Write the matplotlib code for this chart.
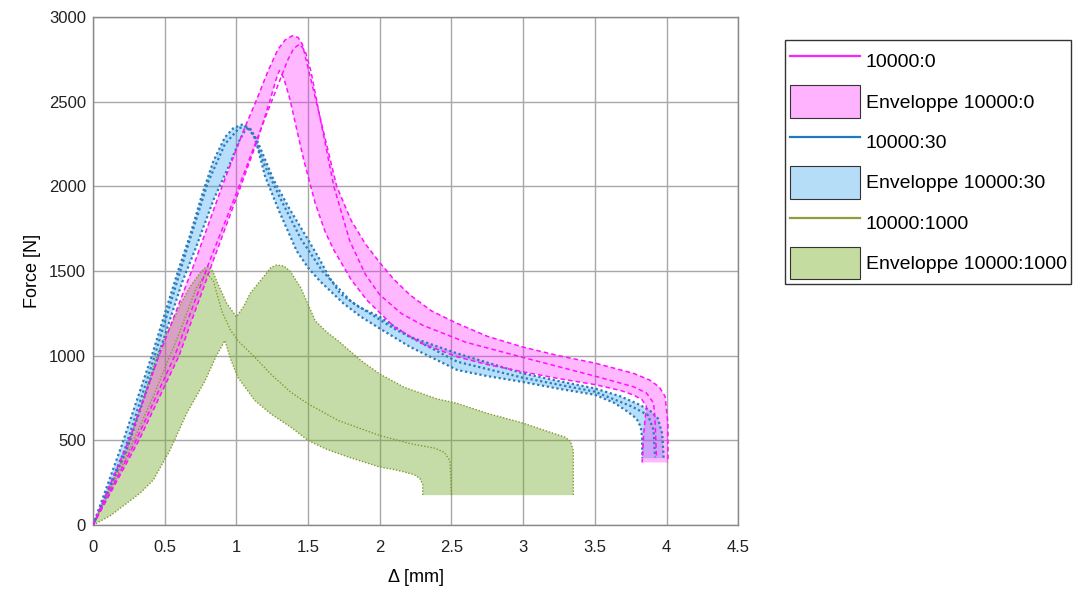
import numpy as np
import matplotlib
matplotlib.use("Agg")
import matplotlib.pyplot as plt
from matplotlib.lines import Line2D
from matplotlib.patches import Patch

plt.rcParams['font.family'] = ['Liberation Sans', 'DejaVu Sans']

# 10000:0 (pink) - envelope upper / lower edges and a third curve
pink_up_x = [0, 0.25, 0.46, 0.69, 0.90, 1.05, 1.14, 1.22, 1.29, 1.34, 1.39, 1.43, 1.46, 1.50, 1.56, 1.62, 1.70, 1.80, 1.90, 2.0, 2.10, 2.21, 2.36, 2.54, 2.75, 3.0, 3.25, 3.5, 3.77, 3.88, 3.95, 3.99, 4.01, 4.01]
pink_up_y = [0, 500, 1000, 1506, 2000, 2330, 2510, 2680, 2810, 2865, 2890, 2880, 2840, 2700, 2491, 2280, 2000, 1800, 1660, 1550, 1450, 1360, 1265, 1191, 1115, 1051, 1000, 957, 896, 858, 815, 760, 600, 370]
pink_lo_x = [0, 0.32, 0.60, 0.84, 1.03, 1.15, 1.235, 1.28, 1.30, 1.33, 1.375, 1.42, 1.47, 1.55, 1.62, 1.68, 1.80, 1.91, 2.1, 2.3, 2.54, 2.75, 3.0, 3.25, 3.5, 3.68, 3.77, 3.83, 3.86, 3.85, 3.84, 3.83]
pink_lo_y = [0, 500, 1000, 1565, 2000, 2280, 2510, 2640, 2685, 2640, 2510, 2340, 2156, 1900, 1730, 1624, 1450, 1329, 1171, 1070, 994, 948, 905, 865, 830, 795, 768, 740, 700, 620, 530, 370]
pink_md_x = [0, 0.30, 0.57, 0.80, 1.0, 1.18, 1.30, 1.36, 1.40, 1.44, 1.48, 1.52, 1.58, 1.68, 1.79, 1.90, 2.0, 2.15, 2.3, 2.6, 3.0, 3.5, 3.77, 3.86, 3.91, 3.92, 3.93]
pink_md_y = [0, 500, 1000, 1530, 1960, 2360, 2620, 2750, 2815, 2840, 2800, 2680, 2420, 2000, 1680, 1480, 1360, 1250, 1180, 1080, 990, 880, 817, 780, 720, 620, 400]

# 10000:30 (blue)
blue_up_x = [0, 0.20, 0.41, 0.595, 0.68, 0.76, 0.84, 0.92, 0.98, 1.04, 1.09, 1.14, 1.19, 1.26, 1.375, 1.49, 1.58, 1.65, 1.724, 1.85, 2.0, 2.21, 2.54, 2.75, 3.0, 3.25, 3.5, 3.68, 3.80, 3.88, 3.94, 3.97, 3.98]
blue_up_y = [0, 470, 1000, 1506, 1720, 1950, 2150, 2290, 2345, 2365, 2345, 2280, 2180, 2038, 1861, 1700, 1570, 1460, 1368, 1290, 1230, 1112, 1014, 960, 896, 850, 807, 760, 715, 680, 630, 540, 395]
blue_lo_x = [0, 0.235, 0.455, 0.62, 0.72, 0.84, 0.956, 1.02, 1.06, 1.09, 1.13, 1.20, 1.30, 1.42, 1.50, 1.584, 1.747, 1.87, 2.0, 2.21, 2.54, 2.75, 3.0, 3.25, 3.5, 3.64, 3.72, 3.79, 3.82, 3.83, 3.83]
blue_lo_y = [0, 443, 1000, 1430, 1644, 1920, 2136, 2270, 2330, 2350, 2290, 2060, 1850, 1620, 1520, 1440, 1309, 1230, 1161, 1053, 916, 880, 845, 805, 770, 720, 675, 630, 580, 520, 395]
blue_md_x = [0, 0.22, 0.43, 0.66, 0.80, 0.92, 1.02, 1.07, 1.12, 1.20, 1.30, 1.45, 1.60, 1.80, 2.1, 2.54, 3.0, 3.5, 3.76, 3.87, 3.91, 3.92]
blue_md_y = [0, 443, 1000, 1644, 2020, 2250, 2345, 2355, 2300, 2120, 1940, 1690, 1500, 1320, 1160, 965, 870, 788, 700, 650, 560, 400]

# 10000:1000 (green)
green_up_x = [0, 0.235, 0.444, 0.537, 0.62, 0.677, 0.747, 0.78, 0.805, 0.835, 0.863, 0.933, 1.0, 1.05, 1.096, 1.19, 1.24, 1.28, 1.33, 1.375, 1.45, 1.55, 1.63, 1.71, 1.87, 2.0, 2.17, 2.40, 2.54, 2.75, 3.0, 3.20, 3.29, 3.33, 3.35, 3.35]
green_up_y = [0, 443, 1000, 1171, 1320, 1408, 1490, 1518, 1526, 1500, 1440, 1309, 1230, 1290, 1368, 1467, 1520, 1536, 1530, 1500, 1400, 1206, 1140, 1088, 971, 892, 814, 745, 719, 660, 602, 545, 520, 495, 440, 177]
green_lo_x = [0, 0.12, 0.233, 0.33, 0.42, 0.537, 0.653, 0.78, 0.86, 0.92, 0.96, 1.01, 1.13, 1.24, 1.38, 1.5, 1.62, 1.78, 2.0, 2.10, 2.17, 2.24, 2.28, 2.30, 2.30]
green_lo_y = [0, 55, 128, 190, 266, 443, 660, 850, 1000, 1090, 980, 873, 735, 657, 578, 500, 451, 402, 343, 328, 314, 298, 275, 240, 177]
green_md_x = [0, 0.22, 0.42, 0.60, 0.72, 0.79, 0.84, 0.90, 0.96, 1.01, 1.13, 1.24, 1.38, 1.5, 1.71, 2.0, 2.22, 2.38, 2.45, 2.49, 2.5]
green_md_y = [0, 380, 760, 1130, 1400, 1490, 1440, 1260, 1150, 1090, 990, 892, 784, 716, 618, 529, 480, 455, 430, 380, 177]

series = [
    # label, up, lo, mid, line colour, fill colour, alpha, linestyle, lw
    ("10000:1000", (green_up_x, green_up_y), (green_lo_x, green_lo_y), (green_md_x, green_md_y),
     "#7f9a2e", "#77ac30", 0.42, (0, (1, 1.3)), 1.0),
    ("10000:30", (blue_up_x, blue_up_y), (blue_lo_x, blue_lo_y), (blue_md_x, blue_md_y),
     "#2b7bb9", "#1f9bf0", 0.32, (0, (1, 1.2)), 1.6),
    ("10000:0", (pink_up_x, pink_up_y), (pink_lo_x, pink_lo_y), (pink_md_x, pink_md_y),
     "#ff10ff", "#ff22ff", 0.32, (0, (3, 2)), 1.1),
]

fig = plt.figure(figsize=(10.84, 5.9), dpi=100)
ax = fig.add_axes([0.0858, 0.110, 0.5952, 0.861])

for lab, up, lo, md, lc, fc, al, ls, lw in series:
    px = list(up[0]) + list(lo[0])[::-1]
    py = list(up[1]) + list(lo[1])[::-1]
    ax.fill(px, py, color=fc, alpha=al, lw=0, zorder=2)
for lab, up, lo, md, lc, fc, al, ls, lw in series:
    for cx, cy in (up, lo, md):
        ax.plot(cx, cy, color=lc, ls=ls, lw=lw, zorder=3)

ax.set_xlim(0, 4.5)
ax.set_ylim(0, 3000)
xt = [0, 0.5, 1, 1.5, 2, 2.5, 3, 3.5, 4, 4.5]
yt = [0, 500, 1000, 1500, 2000, 2500, 3000]
ax.set_xticks(xt)
ax.set_xticklabels([f"{v:g}" for v in xt])
ax.set_yticks(yt)
ax.set_yticklabels([str(v) for v in yt])
ax.tick_params(length=0, labelsize=12, colors="#222222")
ax.tick_params(axis="x", pad=11)
ax.tick_params(axis="y", pad=5)
ax.grid(True, color="#a8a8a8", lw=1.0, zorder=0)
ax.set_axisbelow(True)
for s in ax.spines.values():
    s.set_color("#888888")
    s.set_linewidth(1.0)
ax.set_xlabel("Δ [mm]", fontsize=13, labelpad=10)
ax.set_ylabel("Force [N]", fontsize=13, labelpad=6)

handles = [
    Line2D([], [], color="#ff22ff", lw=1.6),
    Patch(facecolor="#ffb3ff", edgecolor="#333333", lw=0.8),
    Line2D([], [], color="#1f78c0", lw=1.6),
    Patch(facecolor="#b6ddf7", edgecolor="#333333", lw=0.8),
    Line2D([], [], color="#8c9e3c", lw=1.6),
    Patch(facecolor="#c4dca0", edgecolor="#333333", lw=0.8),
]
labels = ["10000:0", "Enveloppe 10000:0", "10000:30", "Enveloppe 10000:30",
          "10000:1000", "Enveloppe 10000:1000"]
leg = fig.legend(handles, labels, loc="upper left", bbox_to_anchor=(0.724, 0.932),
                 fontsize=14, handlelength=3.6, handleheight=2.2, labelspacing=0.4,
                 handletextpad=0.3, borderpad=0.25, borderaxespad=0, fancybox=False,
                 framealpha=1)
leg.get_frame().set_edgecolor("#333333")
leg.get_frame().set_linewidth(1.0)

fig.savefig("out.png", dpi=100)
